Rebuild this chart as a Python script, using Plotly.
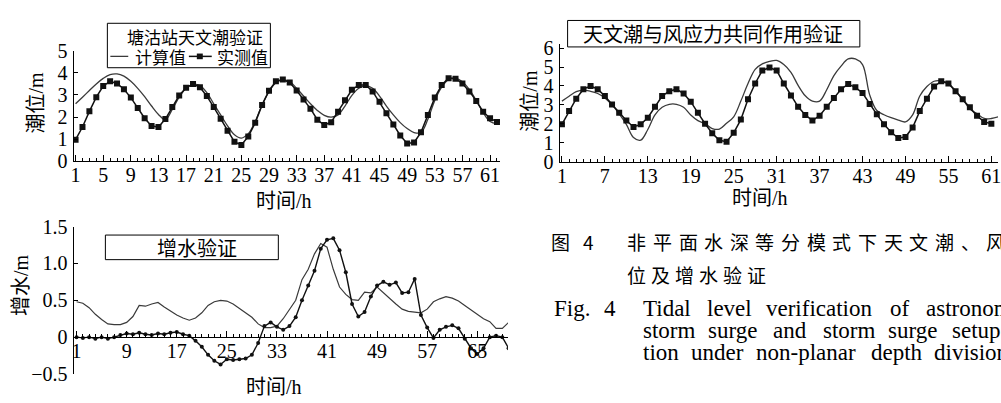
import plotly.graph_objects as go

W, H = 1001, 403

# ---------------- data ----------------
hours_a = list(range(1, 64))
tide_a_calc = [2.6, 2.9, 3.2, 3.5, 3.75, 3.92, 3.95, 3.85, 3.62, 3.3, 2.92, 2.5, 2.12, 1.88,
               2.35, 2.9, 3.3, 3.48, 3.42, 3.1, 2.6, 2.1, 1.6, 1.2, 1.05, 1.25, 1.8, 2.55, 3.15, 3.55, 3.68,
               3.6, 3.3, 2.95, 2.6, 2.3, 2.08, 2.0, 2.1, 2.5, 2.98, 3.3, 3.42, 3.3, 2.95, 2.5, 2.1,
               1.75, 1.48, 1.3, 1.3, 1.9, 2.75, 3.35, 3.7, 3.75, 3.6, 3.25, 2.75, 2.2, 1.8, 1.72, 1.95]
tide_a_meas = [0.98, 1.55, 2.26, 2.9, 3.4, 3.62, 3.52, 3.26, 2.88, 2.41, 1.95, 1.6, 1.55, 1.91,
               2.45, 2.98, 3.33, 3.49, 3.35, 2.95, 2.45, 1.92, 1.38, 0.88, 0.74, 1.12, 1.74, 2.55,
               3.19, 3.62, 3.7, 3.56, 3.2, 2.8, 2.38, 1.88, 1.64, 1.77, 2.24, 2.76, 3.23, 3.45,
               3.45, 3.16, 2.69, 2.17, 1.67, 1.17, 0.81, 0.85, 1.31, 2.09, 2.88, 3.45, 3.76, 3.73,
               3.52, 3.16, 2.73, 2.24, 1.95, 1.78, 2.0]

hours_b_calc = list(range(1, 63))
tide_b_calc = [3.2, 3.46, 3.7, 3.78, 3.72, 3.6, 3.37, 3.0, 2.53, 1.97, 1.27, 1.13, 1.7, 2.47,
               2.87, 3.03, 3.03, 2.87, 2.47, 2.17, 2.0, 1.75, 1.72, 2.03, 2.37, 3.2, 4.13, 4.88,
               5.17, 5.3, 5.35, 5.13, 4.72, 4.03, 3.48, 3.2, 3.2, 3.8, 4.55, 5.05, 5.43, 5.43,
               5.13, 3.53, 2.7, 2.48, 2.32, 2.2, 2.1, 2.47, 3.47, 3.97, 4.25, 4.27, 4.13, 3.75,
               3.3, 2.78, 2.53, 2.28, 2.28, 2.37]
hours_b_meas = list(range(1, 62))
tide_b_meas = [1.97, 2.67, 3.33, 3.83, 4.0, 3.83, 3.47, 3.02, 2.58, 2.17, 1.83, 1.97, 2.32, 2.9,
               3.47, 3.72, 3.83, 3.6, 3.17, 2.58, 2.0, 1.5, 1.13, 1.05, 1.52, 2.22, 3.3, 4.13,
               4.82, 4.98, 4.82, 4.13, 3.5, 2.9, 2.47, 2.17, 2.43, 2.9, 3.37, 3.83, 4.1, 3.93,
               3.63, 3.05, 2.5, 1.97, 1.55, 1.25, 1.3, 1.8, 2.67, 3.33, 3.97, 4.25, 4.13, 3.72,
               3.3, 2.87, 2.42, 2.1, 2.0]

hours_c = list(range(1, 71))
setup_calc = [0.48, 0.46, 0.40, 0.31, 0.24, 0.18, 0.17, 0.17, 0.2, 0.28,
              0.43, 0.42, 0.45, 0.47, 0.41, 0.35, 0.3, 0.26, 0.23, 0.26,
              0.33, 0.43, 0.48, 0.5, 0.49, 0.45, 0.39, 0.34, 0.27, 0.18,
              0.13, 0.13, 0.15, 0.25, 0.38, 0.5, 0.78, 0.92, 1.13, 1.27,
              1.22, 0.92, 0.68, 0.58, 0.51, 0.5, 0.61, 0.6, 0.68, 0.6,
              0.53, 0.45, 0.38, 0.35, 0.34, 0.33, 0.38, 0.48, 0.52, 0.55,
              0.53, 0.49, 0.43, 0.37, 0.31, 0.25, 0.21, 0.12, 0.12, 0.2]
setup_meas = [0.0, -0.01, 0.0, -0.02, 0.0, -0.02, 0.0, 0.03, 0.05, 0.04,
              0.06, 0.04, 0.03, 0.05, 0.04, 0.06, 0.07, 0.04, 0.02, -0.05,
              -0.13, -0.24, -0.32, -0.37, -0.3, -0.31, -0.3, -0.29, -0.24, -0.08,
              0.15, 0.2, 0.14, 0.1, 0.15, 0.27, 0.5, 0.7, 0.9, 1.2,
              1.32, 1.34, 1.18, 0.88, 0.45, 0.28, 0.34, 0.55, 0.7, 0.75,
              0.71, 0.74, 0.6, 0.61, 0.79, 0.3, 0.13, -0.01, 0.1, 0.14,
              0.16, 0.12, -0.02, -0.15, -0.23, -0.15, 0.0, 0.02, 0.0, -0.15]

yticks_c = [-0.5, 0, 0.5, 1.0, 1.5]
yticktext_c = ["\u22120.5", "0", "0.5", "1.0", "1.5"]

title_a = "塘沽站天文潮验证"
title_b = "天文潮与风应力共同作用验证"
title_c = "增水验证"
legend_calc = "计算值"
legend_meas = "实测值"
ylabel_tide = "潮位/m"
ylabel_setup = "增水/m"
xlabel = "时间/h"
cap_cn1_head = ["图", "4"]
cap_cn1 = "非平面水深等分模式下天文潮、风"
cap_cn2 = "位及增水验证"
cap_en = [
    [("Fig.", 552), ("4", 603), ("Tidal", 642), ("level", 706), ("verification", 766), ("of", 890), ("astronomical", 927)],
    [("storm", 642), ("surge", 707), ("and", 773), ("storm", 823), ("surge", 888), ("setup", 953)],
    [("tion", 642), ("under", 690), ("non-planar", 756), ("depth", 871), ("division", 935)],
]


def xp(px):
    return px / W


def yp(py):
    return 1 - py / H


SERIF = "Liberation Serif, Times New Roman, serif"
MIXED = "Liberation Serif, Noto Sans CJK SC, serif"
CJK = "Noto Sans CJK SC, sans-serif"
tick_font = dict(family=SERIF, size=20, color="black")

CALC_COLOR = "#3a3a3a"
MEAS_COLOR = "#111111"

fig = go.Figure()

# panel a
fig.add_trace(go.Scatter(x=hours_a, y=tide_a_calc, mode="lines", xaxis="x", yaxis="y",
                         line=dict(color=CALC_COLOR, width=1.3), line_shape="spline"))
fig.add_trace(go.Scatter(x=hours_a, y=tide_a_meas, mode="lines+markers", xaxis="x", yaxis="y",
                         line=dict(color=MEAS_COLOR, width=1.5),
                         marker=dict(symbol="square", size=6, color=MEAS_COLOR), cliponaxis=True))
# panel b
fig.add_trace(go.Scatter(x=hours_b_calc, y=tide_b_calc, mode="lines", xaxis="x2", yaxis="y2",
                         line=dict(color=CALC_COLOR, width=1.3), line_shape="spline"))
fig.add_trace(go.Scatter(x=hours_b_meas, y=tide_b_meas, mode="lines+markers", xaxis="x2", yaxis="y2",
                         line=dict(color=MEAS_COLOR, width=1.5),
                         marker=dict(symbol="square", size=6, color=MEAS_COLOR), cliponaxis=True))
# panel c
fig.add_trace(go.Scatter(x=hours_c, y=setup_calc, mode="lines", xaxis="x3", yaxis="y3",
                         line=dict(color=CALC_COLOR, width=1.2)))
fig.add_trace(go.Scatter(x=hours_c, y=setup_meas, mode="lines+markers", xaxis="x3", yaxis="y3",
                         line=dict(color=MEAS_COLOR, width=1.4),
                         marker=dict(symbol="circle", size=4, color=MEAS_COLOR), cliponaxis=True))


def xaxis(domain, rng, dtick, anchor, position=None):
    d = dict(domain=domain, range=rng, anchor=anchor, showline=True, linecolor="black", linewidth=1.2,
             ticks="inside", ticklen=6, tickwidth=1, tickcolor="black",
             tickmode="linear", tick0=1, dtick=dtick,
             minor=dict(ticks="inside", ticklen=3, tickwidth=1, tickcolor="black", tick0=1, dtick=1,
                        showgrid=False),
             showgrid=False, zeroline=False, tickfont=tick_font, fixedrange=True,
             ticklabeloverflow="allow")
    if position is not None:
        d["position"] = position
    return d


def yaxis(domain, rng, anchor, **kw):
    d = dict(domain=domain, range=rng, anchor=anchor, showline=True, linecolor="black", linewidth=1.2,
             ticks="inside", ticklen=4, tickwidth=1, tickcolor="black",
             showgrid=False, zeroline=False, tickfont=tick_font, fixedrange=True, ticklabelstandoff=1)
    d.update(kw)
    return d


fig.update_layout(
    width=W, height=H, margin=dict(l=0, r=0, t=0, b=0),
    paper_bgcolor="white", plot_bgcolor="white", showlegend=False,
    xaxis=xaxis([xp(71), xp(500)], [0.71, 62.44], 4, "y"),
    yaxis=yaxis([yp(159), yp(42)], [0, 5], "x", tickmode="linear", tick0=0, dtick=1),
    xaxis2=xaxis([xp(560), xp(1001)], [0.68, 61.93], 6, "y2"),
    yaxis2=yaxis([yp(159.3), yp(35.3)], [0, 6.2], "x2", tickmode="linear", tick0=0, dtick=1),
    xaxis3=xaxis([xp(71), xp(508)], [0.52, 69.9], 8, "free", position=yp(345)),
    yaxis3=yaxis([yp(384), yp(228)], [-0.5, 1.5], "x3", tickmode="array",
                 tickvals=yticks_c, ticktext=yticktext_c),
)

# pull x tick labels a little closer to the axis line
for ax in ("xaxis", "xaxis2", "xaxis3"):
    try:
        fig.layout[ax].ticklabelstandoff = -4
    except Exception:
        pass

shapes = []
annots = []


def box(x0, y0, x1, y1):
    shapes.append(dict(type="rect", xref="paper", yref="paper", x0=xp(x0), x1=xp(x1), y0=yp(y1), y1=yp(y0),
                       line=dict(color="black", width=1), fillcolor="rgba(0,0,0,0)"))


def text(s, x, y, size, family, xanchor="center", angle=0):
    annots.append(dict(text=s, x=xp(x), y=yp(y), xref="paper", yref="paper", showarrow=False,
                       xanchor=xanchor, yanchor="middle", textangle=angle,
                       font=dict(family=family, size=size, color="black")))


# legend / title boxes
box(105, 13, 269, 60)
text(title_a, 193, 27, 17, CJK)
shapes.append(dict(type="line", xref="paper", yref="paper", x0=xp(108), x1=xp(126), y0=yp(48), y1=yp(48),
                   line=dict(color=CALC_COLOR, width=1.3)))
text(legend_calc, 158, 48, 17, CJK)
shapes.append(dict(type="line", xref="paper", yref="paper", x0=xp(187), x1=xp(210), y0=yp(48), y1=yp(48),
                   line=dict(color=MEAS_COLOR, width=1.5)))
shapes.append(dict(type="rect", xref="paper", yref="paper", x0=xp(195), x1=xp(201), y0=yp(51), y1=yp(45),
                   line=dict(color=MEAS_COLOR, width=0), fillcolor=MEAS_COLOR))
text(legend_meas, 241, 48, 17, CJK)

box(568, 10, 862, 38)
text(title_b, 714, 24, 20, CJK)

box(103, 237, 277, 263)
text(title_c, 195, 250, 20, CJK)

# axis titles
text(ylabel_tide, 33, 97, 20, MIXED, angle=-90)
text(ylabel_tide, 530, 95, 20, MIXED, angle=-90)
text(ylabel_setup, 18, 290, 20, MIXED, angle=-90)
text(xlabel, 283, 201, 20, MIXED)
text(xlabel, 762, 198, 20, MIXED)
text(xlabel, 273, 398, 20, MIXED)

# caption (Chinese)
text(cap_cn1_head[0], 549, 244, 19, CJK, xanchor="left")
text(cap_cn1_head[1], 581, 244, 19, CJK, xanchor="left")
for i, ch in enumerate(cap_cn1):
    text(ch, 626 + i * 25.8, 244, 19, CJK, xanchor="left")
for i, ch in enumerate(cap_cn2):
    text(ch, 626 + i * 24.0, 279, 19, CJK, xanchor="left")

# caption (English)
for row, yy in zip(cap_en, [315, 338, 361]):
    for word, xx in row:
        text(word, xx, yy, 23, SERIF, xanchor="left")

fig.update_layout(shapes=shapes, annotations=annots)
fig.write_html("out.html")
